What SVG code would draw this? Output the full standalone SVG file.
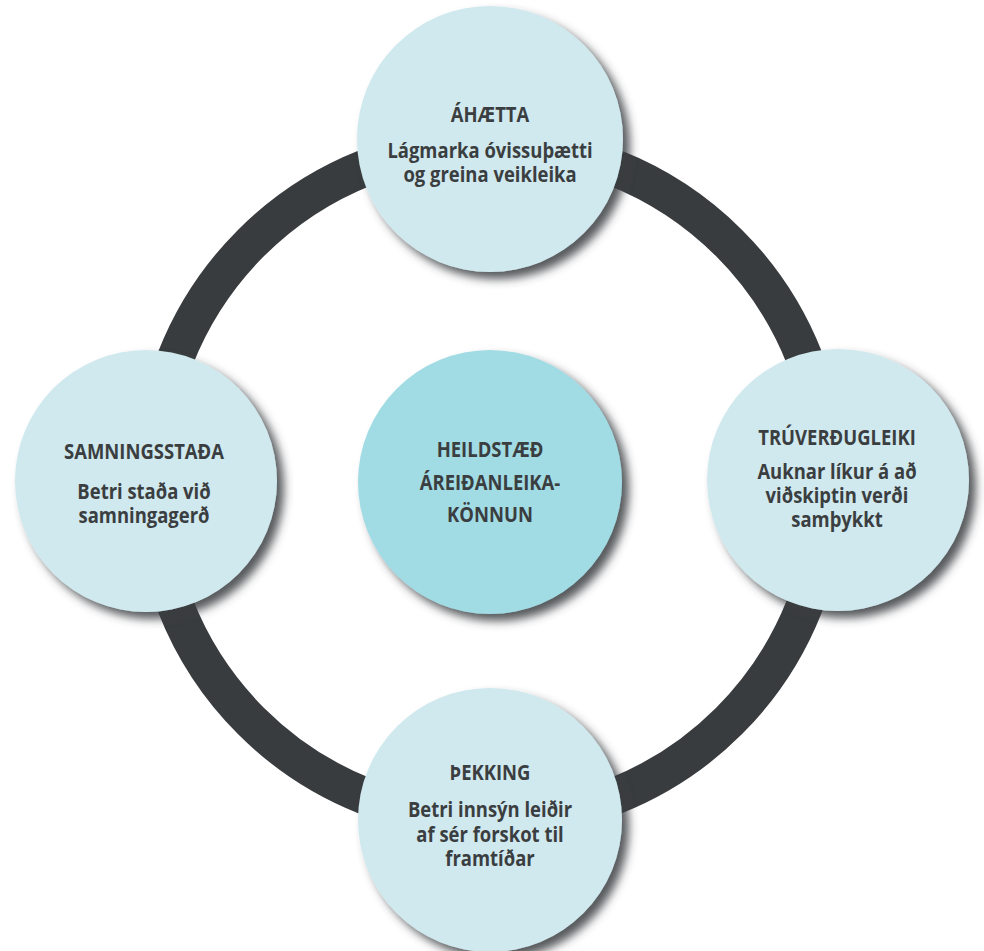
<svg xmlns="http://www.w3.org/2000/svg" width="984" height="951" viewBox="0 0 984 951">
  <defs>
    <filter id="shadow" x="-20%" y="-20%" width="150%" height="150%">
      <feDropShadow dx="7" dy="7" stdDeviation="5" flood-color="#3a3d3f" flood-opacity="0.85"/>
    </filter>
  </defs>
  <style>
    .node { fill: #d0e9ef; filter: url(#shadow); }
    .hub { fill: #a1dbe4; filter: url(#shadow); }
    text { font-family: "Open Sans", "Noto Sans", "Liberation Sans", sans-serif; font-weight: 700; font-size: 20.5px; fill: #3b3e40; text-anchor: middle; }
  </style>
  <rect width="984" height="951" fill="#ffffff"/>
  <g id="connectors">
    <circle cx="490" cy="482" r="338" fill="none" stroke="#393c3e" stroke-width="37"/>
  </g>
  <g id="node-ahaetta">
    <circle class="node" cx="490" cy="139" r="133"/>
    <g transform="translate(490 0) scale(0.9 1)">
      <text x="0" y="122">ÁHÆTTA</text>
      <text x="0" y="158">Lágmarka óvissuþætti</text>
      <text x="0" y="182">og greina veikleika</text>
    </g>
  </g>
  <g id="node-samningsstada">
    <circle class="node" cx="146" cy="481" r="131"/>
    <g transform="translate(144 0) scale(0.9 1)">
      <text x="0" y="459">SAMNINGSSTAÐA</text>
      <text x="0" y="499">Betri staða við</text>
      <text x="0" y="523">samningagerð</text>
    </g>
  </g>
  <g id="node-truverdugleiki">
    <circle class="node" cx="838" cy="480" r="131"/>
    <g transform="translate(837 0) scale(0.9 1)">
      <text x="0" y="445">TRÚVERÐUGLEIKI</text>
      <text x="0" y="479">Auknar líkur á að</text>
      <text x="0" y="503">viðskiptin verði</text>
      <text x="0" y="527">samþykkt</text>
    </g>
  </g>
  <g id="node-thekking">
    <circle class="node" cx="490" cy="820" r="132"/>
    <g transform="translate(490 0) scale(0.9 1)">
      <text x="0" y="780">ÞEKKING</text>
      <text x="0" y="817">Betri innsýn leiðir</text>
      <text x="0" y="842">af sér forskot til</text>
      <text x="0" y="866">framtíðar</text>
    </g>
  </g>
  <g id="node-center">
    <circle class="hub" cx="490" cy="482" r="132"/>
    <g transform="translate(490 0) scale(0.9 1)">
      <text x="0" y="457">HEILDSTÆÐ</text>
      <text x="0" y="490">ÁREIÐANLEIKA-</text>
      <text x="0" y="522">KÖNNUN</text>
    </g>
  </g>
</svg>
